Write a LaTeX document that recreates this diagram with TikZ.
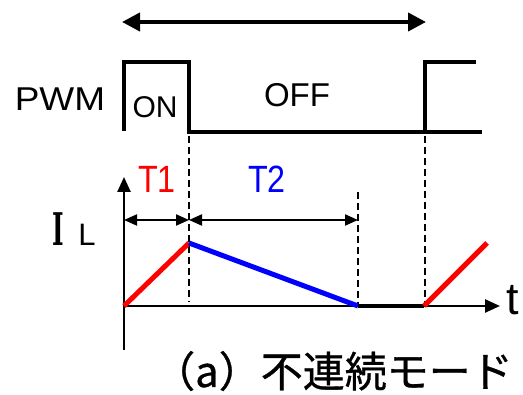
\documentclass[tikz,border=0pt]{standalone}
\usepackage{fontspec}
\setmainfont{Liberation Sans}
\newfontfamily\jpfont[FakeBold=0.8]{Noto Sans CJK JP}
\newfontfamily\slabfont{DejaVu Serif}
\usetikzlibrary{arrows.meta}
\definecolor{rise}{HTML}{FF0000}
\definecolor{fall}{HTML}{0000FF}
\definecolor{ink}{HTML}{000000}

\begin{document}
\begin{tikzpicture}[x=1pt, y=-1pt, every node/.style={color=ink, inner sep=0pt, anchor=base, font=\fontsize{33}{33}\selectfont}]
  \useasboundingbox (0,0) rectangle (523,395);
  \coordinate (L0) at (124,131);
  \coordinate (H0) at (124,62);
  \coordinate (H1) at (189,62);
  \coordinate (L1) at (189,132);
  \coordinate (L2) at (425,132);
  \coordinate (H2) at (425,62);
  \coordinate (H3) at (476,62);
  \coordinate (L3) at (482,132);

  \coordinate (O) at (124,306);
  \coordinate (Y) at (124,177);
  \coordinate (Yb) at (124,350);
  \coordinate (X) at (500,306);
  \coordinate (Pk) at (189,243);
  \coordinate (Z) at (358,306);
  \coordinate (S) at (424,306);
  \coordinate (E) at (487,243);

  \draw[ink, line width=4pt, {Triangle[length=18pt,width=18pt]}-{Triangle[length=18pt,width=18pt]}] (122,22) coordinate (Pa) -- (426,22) coordinate (Pb);

  \draw[ink, line width=4pt] (L0)--(H0)--(H1)--(L1)--(L3);
  \draw[ink, line width=4pt] (L2)--(H2)--(H3);

  \draw[ink, line width=1.5pt, dash pattern=on 7pt off 4pt] (L1)++(0,4) -- (189,302);
  \draw[ink, line width=1.5pt, dash pattern=on 7pt off 4pt] (L2)++(0,4) -- (425,302);
  \draw[ink, line width=1.5pt, dash pattern=on 7pt off 4pt] (358,192) -- (Z);

  \draw[ink, line width=2.5pt, -{Triangle[length=15pt,width=13pt]}] (Yb) -- (Y);
  \draw[ink, line width=2.5pt, -{Triangle[length=15pt,width=13pt]}] (O) -- (X);

  \draw[ink, line width=2pt, {Triangle[length=13pt,width=11pt]}-{Triangle[length=13pt,width=11pt]}] (124,220) -- (189,220);
  \draw[ink, line width=2pt, {Triangle[length=13pt,width=11pt]}-{Triangle[length=13pt,width=11pt]}] (189,220) -- (358,220);

  \draw[rise, line width=5pt] (O) -- (Pk);
  \draw[fall, line width=5pt] (Pk) -- (Z);
  \draw[ink, line width=4pt] (Z) -- (S);
  \draw[rise, line width=5pt] (S) -- (E);

  \node[xscale=1.12] (pwm) at (60,111) {PWM};
  \node[font=\fontsize{30}{30}\selectfont] (on) at (155,118) {ON};
  \node (off) at (297,107) {OFF};
  \node[rise, xscale=0.85, font=\fontsize{38}{38}\selectfont] (t1) at (157,193) {T1};
  \node[fall, xscale=0.85, font=\fontsize{38}{38}\selectfont] (t2) at (267,193) {T2};
  \node[xscale=0.55, font=\slabfont\bfseries\fontsize{45}{45}\selectfont] (il) at (58,246) {I};
  \node[font=\fontsize{31}{31}\selectfont] (ilsub) at (87,246) {L};
  \node[anchor=base west, font=\fontsize{45}{45}\selectfont] (tlab) at (506,315) {t};
  \node[font=\jpfont\fontsize{42}{42}\selectfont] (cap) at (333,387) {（a）不連続モード};
\end{tikzpicture}
\end{document}
